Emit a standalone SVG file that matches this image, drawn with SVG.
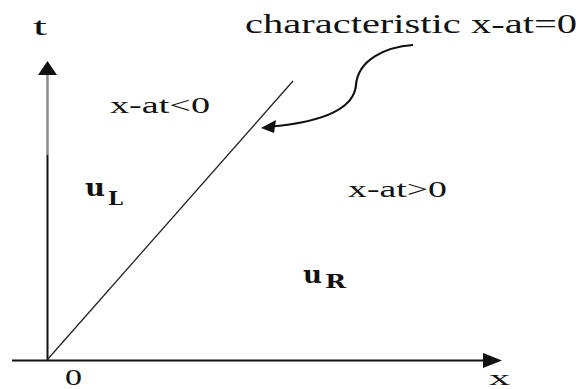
<svg xmlns="http://www.w3.org/2000/svg" width="583" height="389" viewBox="0 0 583 389">
<style>
.lbl{font-family:"Liberation Serif","Times New Roman",serif;fill:#111;}
.sub{font-family:"DejaVu Serif","Liberation Serif",serif;font-weight:bold;fill:#111;}
.axis{stroke:#111;stroke-width:2;fill:none;}
</style>
<rect width="583" height="389" fill="#fff"/>
<g id="connectors">
<line x1="12" y1="360.5" x2="486" y2="360.5" class="axis"/>
<polygon points="483,353 502,360.5 483,368" fill="#111"/>
<line x1="47.5" y1="361" x2="47.5" y2="155" class="axis"/>
<line x1="47.5" y1="155" x2="47.5" y2="72" stroke="#8a8a8a" stroke-width="2.5"/>
<polygon points="38,75 47.5,61 57,75" fill="#111"/>
<line x1="47" y1="360" x2="293" y2="81" stroke="#222" stroke-width="1.3"/>
<path d="M413,45 C385,47 358,60 356,85 C354,110 320,122 272,126.5" fill="none" stroke="#111" stroke-width="2.2"/>
<polygon points="261,128 276,120 274,133" fill="#111"/>
</g>
<g id="label-t"><text class="lbl" x="33" y="35" font-size="26" textLength="14" lengthAdjust="spacingAndGlyphs">t</text></g>
<g id="label-char"><text class="lbl" x="245" y="33" font-size="27" textLength="332" lengthAdjust="spacingAndGlyphs">characteristic x-at=0</text></g>
<g id="label-lt"><text class="lbl" x="110" y="113" font-size="24" textLength="100" lengthAdjust="spacingAndGlyphs">x-at&lt;0</text></g>
<g id="label-gt"><text class="lbl" x="348" y="197" font-size="24" textLength="99" lengthAdjust="spacingAndGlyphs">x-at&gt;0</text></g>
<g id="label-uL">
<text class="sub" x="85" y="196" font-size="25" font-weight="normal" textLength="20" lengthAdjust="spacingAndGlyphs">u</text>
<text class="sub" x="108" y="205" font-size="18" textLength="15" lengthAdjust="spacingAndGlyphs">L</text>
</g>
<g id="label-uR">
<text class="sub" x="303" y="283" font-size="25" font-weight="normal" textLength="19" lengthAdjust="spacingAndGlyphs">u</text>
<text class="sub" x="325" y="288" font-size="18" textLength="21" lengthAdjust="spacingAndGlyphs">R</text>
</g>
<g id="label-0"><text class="lbl" x="65" y="385" font-size="23" textLength="17" lengthAdjust="spacingAndGlyphs">0</text></g>
<g id="label-x"><text class="lbl" x="489" y="385" font-size="22" textLength="21" lengthAdjust="spacingAndGlyphs">x</text></g>
</svg>
